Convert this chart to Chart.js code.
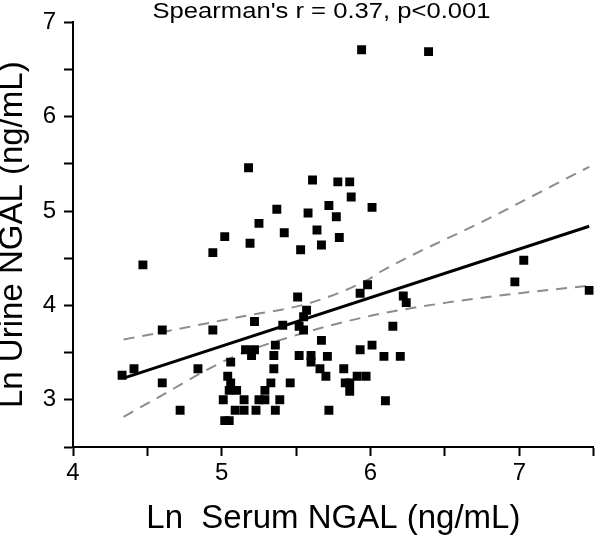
<!DOCTYPE html>
<html lang="en">
<head>
  <meta charset="UTF-8">
  <title>Serum vs Urine NGAL</title>
  <script src="https://cdn.jsdelivr.net/npm/chart.js"></script>
  <style>
    html, body { margin: 0; padding: 0; background: #fff; }
    .chart-container { position: relative; width: 600px; height: 537px; }
  </style>
</head>
<body>
  <div class="chart-container">
    <canvas id="ngalChart"></canvas>
  </div>

  <script>
    // Ln serum NGAL (x) and Ln urine NGAL (y)
    const serumNGAL = [
      5.94, 6.39, 5.18, 5.61, 5.78, 5.86, 5.87, 6.01, 5.37, 5.72,
      5.58, 5.77, 5.25, 5.64, 5.42, 5.02, 5.79, 5.19, 5.67, 4.94,
      5.53, 4.47, 7.03, 6.97, 7.47, 5.98, 5.93, 6.22, 6.24, 5.51,
      5.57, 5.55, 5.52, 5.55, 5.41, 5.22, 4.94, 4.60, 6.15, 5.67,
      6.01, 5.36, 5.93, 5.16, 5.22, 5.20, 5.35, 5.52, 5.60, 5.60,
      5.71, 6.09, 6.20, 5.06, 4.41, 4.84, 5.35, 5.66, 5.82, 4.33,
      5.04, 5.70, 5.91, 5.97, 4.60, 5.06, 5.33, 5.46, 5.83, 5.86,
      5.05, 5.10, 5.29, 5.86, 5.01, 5.15, 5.25, 5.29, 5.39, 6.10,
      4.72, 5.09, 5.15, 5.23, 5.36, 5.72, 5.02, 5.05
    ];
    const urineNGAL = [
      6.71, 6.69, 5.46, 5.33, 5.31, 5.31, 5.15, 5.04, 5.02, 5.06,
      4.98, 4.94, 4.87, 4.80, 4.77, 4.73, 4.72, 4.66, 4.64, 4.56,
      4.59, 4.43, 4.48, 4.25, 4.16, 4.22, 4.13, 4.10, 4.03, 4.09,
      3.95, 3.88, 3.78, 3.74, 3.79, 3.83, 3.74, 3.74, 3.78, 3.63,
      3.58, 3.58, 3.53, 3.53, 3.53, 3.47, 3.47, 3.47, 3.47, 3.40,
      3.46, 3.46, 3.46, 3.40, 3.33, 3.33, 3.33, 3.33, 3.33, 3.26,
      3.25, 3.25, 3.25, 3.25, 3.18, 3.18, 3.18, 3.18, 3.18, 3.18,
      3.10, 3.10, 3.10, 3.09, 3.00, 3.00, 3.00, 3.00, 3.00, 2.99,
      2.89, 2.89, 2.89, 2.89, 2.89, 2.89, 2.78, 2.78
    ];

    // regression line and 95% band
    const fitX = [4.34, 7.47];
    const fitY = [3.23, 4.84];
    const upperX = [4.34, 4.51, 5.09, 5.60, 5.99, 6.07, 6.78, 7.47];
    const upperY = [3.64, 3.69, 3.87, 4.03, 4.28, 4.36, 4.91, 5.47];
    const lowerX = [4.34, 4.51, 5.07, 5.51, 6.00, 6.51, 7.00, 7.47];
    const lowerY = [2.82, 2.97, 3.45, 3.69, 3.89, 4.03, 4.13, 4.21];

    const xTickLabels = [4, 5, 6, 7];
    const yTickLabels = [3, 4, 5, 6, 7];
    const corrText = "Spearman's r = 0.37, p<0.001";

    const FONT = '"Liberation Sans", Arial, sans-serif';

    function toPoints(xs, ys) {
      return xs.map((x, i) => ({ x: x, y: ys[i] }));
    }

    // stretched title text above the plot, like the original figure
    const corrTitle = {
      id: 'corrTitle',
      afterDraw(chart) {
        const ctx = chart.ctx;
        ctx.save();
        ctx.font = '22px ' + FONT;
        ctx.fillStyle = '#000';
        ctx.textAlign = 'center';
        ctx.textBaseline = 'middle';
        const w = ctx.measureText(corrText).width;
        ctx.translate(321.5, 12);
        ctx.scale(338 / w, 1);
        ctx.fillText(corrText, 0, 0);
        ctx.restore();
      }
    };

    const bandStyle = {
      showLine: true,
      borderColor: '#8c8c8c',
      borderWidth: 2,
      borderDash: [11, 8],
      pointRadius: 0,
      cubicInterpolationMode: 'monotone',
      fill: false,
      order: 2
    };

    new Chart(document.getElementById('ngalChart').getContext('2d'), {
      type: 'scatter',
      data: {
        datasets: [
          {
            label: 'Patients',
            data: toPoints(serumNGAL, urineNGAL),
            pointStyle: 'rect',
            pointRadius: 6.3,
            backgroundColor: '#000',
            borderColor: '#000',
            borderWidth: 0,
            order: 0
          },
          {
            label: 'Fit',
            data: toPoints(fitX, fitY),
            showLine: true,
            borderColor: '#000',
            borderWidth: 3,
            pointRadius: 0,
            order: 1
          },
          Object.assign({ label: 'Upper 95%', data: toPoints(upperX, upperY) }, bandStyle),
          Object.assign({ label: 'Lower 95%', data: toPoints(lowerX, lowerY) }, bandStyle)
        ]
      },
      options: {
        responsive: true,
        maintainAspectRatio: false,
        animation: false,
        events: [],
        layout: { padding: { top: 21, right: 1, left: 0, bottom: 0 } },
        plugins: {
          legend: { display: false },
          tooltip: { enabled: false }
        },
        scales: {
          x: {
            type: 'linear',
            min: 4,
            max: 7.5,
            afterFit: s => { s.height = 90; },
            border: { display: true, color: '#000', width: 2 },
            grid: { drawOnChartArea: false, drawTicks: true, tickLength: 9, tickColor: '#000', tickWidth: 2 },
            ticks: {
              stepSize: 0.5,
              autoSkip: false,
              maxRotation: 0,
              padding: 3,
              color: '#000',
              font: { family: FONT, size: 24 },
              callback: v => xTickLabels.includes(v) ? String(v) : ''
            },
            title: {
              display: true,
              text: 'Ln  Serum NGAL (ng/mL)',
              color: '#000',
              font: { family: FONT, size: 33, lineHeight: 1 },
              padding: { top: 0, bottom: 2 }
            }
          },
          y: {
            type: 'linear',
            min: 2.5,
            max: 7,
            afterFit: s => { s.width = 73; },
            border: { display: true, color: '#000', width: 2 },
            grid: { drawOnChartArea: false, drawTicks: true, tickLength: 9, tickColor: '#000', tickWidth: 2 },
            ticks: {
              stepSize: 0.5,
              autoSkip: false,
              padding: 8,
              color: '#000',
              font: { family: FONT, size: 24 },
              callback: v => yTickLabels.includes(v) ? String(v) : ''
            },
            title: {
              display: true,
              text: 'Ln Urine NGAL (ng/mL)',
              color: '#000',
              font: { family: FONT, size: 33, lineHeight: 0.8 },
              padding: { top: 0, bottom: 0 }
            }
          }
        }
      },
      plugins: [corrTitle]
    });
  </script>
</body>
</html>
